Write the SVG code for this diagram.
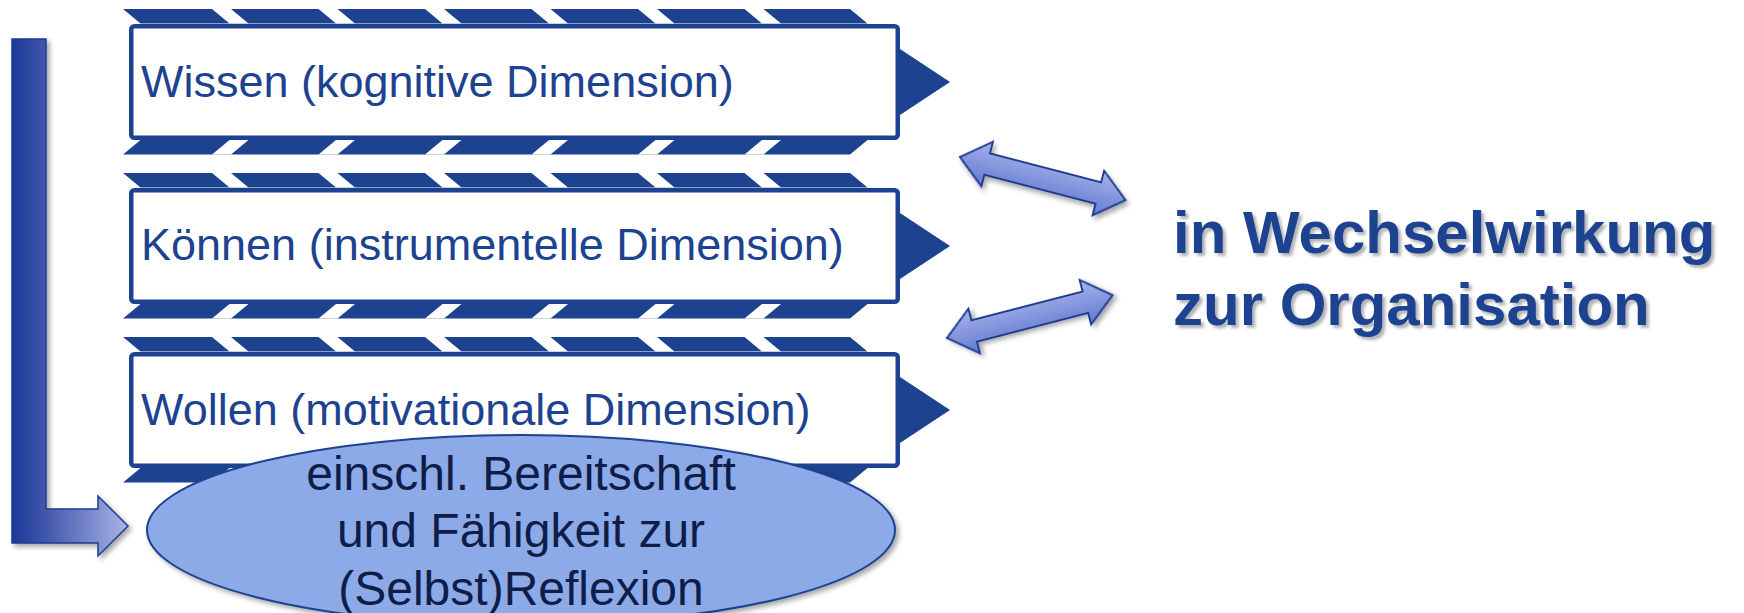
<svg xmlns="http://www.w3.org/2000/svg" xmlns:xlink="http://www.w3.org/1999/xlink" width="1744" height="613" viewBox="0 0 1744 613">
<style>
.band{fill:#1D4290}
.slash{fill:#ffffff}
.box{fill:#ffffff;stroke:#1D4290;stroke-width:4.5}
.tri{fill:#1D4290}
.lbl{font-family:"Liberation Sans",Arial,sans-serif;font-size:45px;fill:#1D4290}
.ell{fill:#8CAAE8;stroke:#1D4290;stroke-width:2}
.elbl{font-family:"Liberation Sans",Arial,sans-serif;font-size:48px;fill:#0F1D48;text-anchor:middle}
.big{font-family:"Liberation Sans",Arial,sans-serif;font-size:60px;font-weight:bold;fill:#1D4290}
.dbl{fill:url(#gD);stroke:#1D3C8F;stroke-width:2;stroke-linejoin:miter}
.lar{fill:url(#gL);stroke:#1D3C8F;stroke-width:1.5}
</style>
<defs>
<linearGradient id="gL" gradientUnits="userSpaceOnUse" x1="12" y1="0" x2="128" y2="0">
<stop offset="0" stop-color="#1A3898"/>
<stop offset="0.3" stop-color="#4358AC"/>
<stop offset="1" stop-color="#AAB4E8"/>
</linearGradient>
<linearGradient id="gD" x1="0" y1="0" x2="0" y2="1">
<stop offset="0" stop-color="#A6B3EC"/>
<stop offset="1" stop-color="#6379CF"/>
</linearGradient>
<filter id="sh" x="-10%" y="-10%" width="130%" height="140%">
<feDropShadow dx="3" dy="3" stdDeviation="2.5" flood-color="#000" flood-opacity="0.35"/>
</filter>
<filter id="tsh" x="-5%" y="-10%" width="115%" height="130%">
<feDropShadow dx="3" dy="3" stdDeviation="1.5" flood-color="#000" flood-opacity="0.3"/>
</filter>
<g id="topBand">
<polygon class="band" points="123,0 850,0 867.5,14.5 140.5,14.5"/>
<polygon class="slash" points="212,0 231,0 248.5,14.5 229.5,14.5"/>
<polygon class="slash" points="318.5,0 337.5,0 355,14.5 336,14.5"/>
<polygon class="slash" points="425,0 444,0 461.5,14.5 442.5,14.5"/>
<polygon class="slash" points="531.5,0 550.5,0 568,14.5 549,14.5"/>
<polygon class="slash" points="638,0 657,0 674.5,14.5 655.5,14.5"/>
<polygon class="slash" points="744.5,0 763.5,0 781,14.5 762,14.5"/>
</g>
<g id="botBand">
<polygon class="band" points="140.5,0 867.5,0 850,14.5 123,14.5"/>
<polygon class="slash" points="229.5,0 248.5,0 231,14.5 212,14.5"/>
<polygon class="slash" points="336,0 355,0 337.5,14.5 318.5,14.5"/>
<polygon class="slash" points="442.5,0 461.5,0 444,14.5 425,14.5"/>
<polygon class="slash" points="549,0 568,0 550.5,14.5 531.5,14.5"/>
<polygon class="slash" points="655.5,0 674.5,0 657,14.5 638,14.5"/>
<polygon class="slash" points="762,0 781,0 763.5,14.5 744.5,14.5"/>
</g>
</defs>
<rect width="1744" height="613" fill="#ffffff"/>

<g id="node-wissen">
<use xlink:href="#topBand" href="#topBand" transform="translate(0,9)"/>
<use xlink:href="#botBand" href="#botBand" transform="translate(0,140)"/>
<rect class="box" x="131.25" y="26.25" width="766.5" height="111.5" rx="3"/>
<polygon class="tri" points="897,47 950,82 897,117"/>
<text class="lbl" x="141" y="97">Wissen (kognitive Dimension)</text>
</g>

<g id="node-koennen">
<use xlink:href="#topBand" href="#topBand" transform="translate(0,173)"/>
<use xlink:href="#botBand" href="#botBand" transform="translate(0,304)"/>
<rect class="box" x="131.25" y="190.25" width="766.5" height="111.5" rx="3"/>
<polygon class="tri" points="897,211 950,246 897,281"/>
<text class="lbl" x="141" y="260">Können (instrumentelle Dimension)</text>
</g>

<g id="node-wollen">
<use xlink:href="#topBand" href="#topBand" transform="translate(0,337)"/>
<use xlink:href="#botBand" href="#botBand" transform="translate(0,468)"/>
<rect class="box" x="131.25" y="354.25" width="766.5" height="111.5" rx="3"/>
<polygon class="tri" points="897,375 950,410 897,445"/>
<text class="lbl" x="141" y="425">Wollen (motivationale Dimension)</text>
</g>

<g id="node-reflexion">
<ellipse class="ell" cx="521" cy="530" rx="374" ry="95" filter="url(#sh)"/>
<text class="elbl" x="521" y="490">einschl. Bereitschaft</text>
<text class="elbl" x="521" y="547">und Fähigkeit zur</text>
<text class="elbl" x="521" y="605">(Selbst)Reflexion</text>
</g>

<g id="node-organisation" filter="url(#tsh)">
<text class="big" x="1173" y="253">in Wechselwirkung</text>
<text class="big" x="1173" y="325">zur Organisation</text>
</g>

<g id="connectors">
<polygon class="lar" filter="url(#sh)" points="12,39 46,39 46,509 98,509 98,496 128,526 98,556 98,543 12,543"/>
<polygon class="dbl" filter="url(#sh)" transform="translate(960,157) rotate(14.6)" points="0,0 28,-23 28,-11 143,-11 143,-23 171,0 143,23 143,11 28,11 28,23"/>
<polygon class="dbl" filter="url(#sh)" transform="translate(947,338) rotate(-14.5)" points="0,0 28,-23 28,-11 143,-11 143,-23 171,0 143,23 143,11 28,11 28,23"/>
</g>
</svg>
